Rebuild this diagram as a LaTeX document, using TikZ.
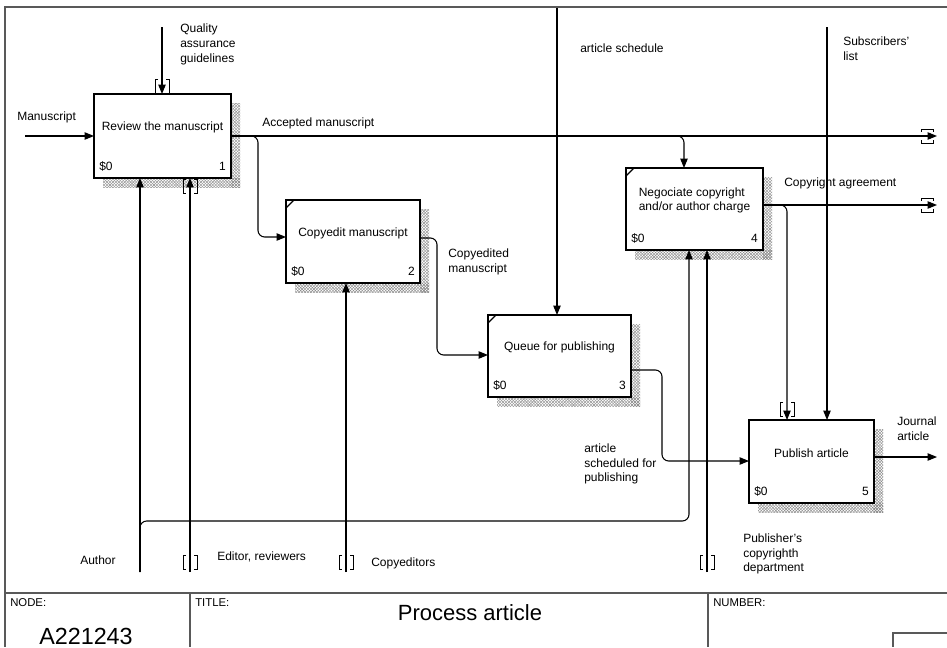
\documentclass[tikz,border=0pt]{standalone}
\usepackage{fontspec}
\setmainfont{Liberation Sans}
\usetikzlibrary{arrows.meta,patterns.meta,calc,backgrounds}
\tikzdeclarepattern{name=shadehatch, type=uncolored,
  bottom left={(-.5pt,-.5pt)}, top right={(2.7pt,2.7pt)}, tile size={(2.2pt,2.2pt)},
  code={\draw[line width=0.3pt] (0,0)--(2.2pt,2.2pt) (0,2.2pt)--(2.2pt,0);}}
\tikzset{
  box/.style={draw, line width=1.7pt, fill=white, rectangle, inner sep=0pt, outer sep=0pt},
  boxt/.style={font=\fontsize{9}{11}\selectfont, inner sep=0pt, align=left},
  lbl/.style={font=\fontsize{9}{11}\selectfont, inner sep=0pt, align=left, anchor=west},
  small/.style={font=\fontsize{8.5}{10}\selectfont, inner sep=0pt, anchor=west},
  arr/.style={line width=0.8pt, -{Triangle[length=7pt,width=5.5pt]}},
  ln/.style={line width=0.8pt},
  tun/.style={line width=0.7pt},
  frame/.style={line width=1.3pt, draw=black!65},
  shadow/.style={pattern=shadehatch, pattern color=black!45},
  vtun/.pic={\draw[tun] (-4,-7) -- (-7,-7) -- (-7,7) -- (-4,7) (4,-7) -- (7,-7) -- (7,7) -- (4,7);},
  htun/.pic={\draw[tun] (-6,-4) -- (-6,-7) -- (6,-7) -- (6,-4) (-6,4) -- (-6,7) -- (6,7) -- (6,4);}
}
\begin{document}
\begin{tikzpicture}[x=0.75pt,y=-0.75pt]
\useasboundingbox (0,0) rectangle (947,647);
% frame and title block
\draw[frame] (947,7) -- (5,7) -- (5,647);
\draw[frame] (5,593) -- (947,593);
\draw[frame] (190,593) -- (190,647);
\draw[frame] (708,593) -- (708,647);
\draw[frame] (947,633) -- (893,633) -- (893,647);
\node[small] (tnode) at (10,603) {NODE:};
\node[small] (ttitle) at (195,603) {TITLE:};
\node[small] (tnum) at (713,603) {NUMBER:};
\node[inner sep=0pt, font=\fontsize{16.5}{18}\selectfont] (title) at (470,613) {Process article};
\node[inner sep=0pt, font=\fontsize{17.5}{19}\selectfont] (nodeid) at (86,636) {A221243};
% boxes
\node[box, minimum width=102.75pt, minimum height=63pt] (b1) at (162.5,136) {};
\node[box, minimum width=100.5pt, minimum height=62.25pt] (b2) at (353,241.5) {};
\node[box, minimum width=107.25pt, minimum height=61.5pt] (b3) at (559.5,356) {};
\node[box, minimum width=102.75pt, minimum height=61.5pt] (b4) at (694.5,209) {};
\node[box, minimum width=93.75pt, minimum height=62.25pt] (b5) at (811.5,461.5) {};
\begin{scope}[on background layer]
\foreach \b in {b1,b2,b3,b4,b5}{
  \fill[shadow] ($(\b.north east)+(0,9)$) rectangle ($(\b.south east)+(9,9)$);
  \fill[shadow] ($(\b.south west)+(9,0)$) rectangle ($(\b.south east)+(9,9)$);
}
\end{scope}
\foreach \b in {b2,b3,b4}{
  \draw[line width=0.9pt] ($(\b.north west)+(0,8)$) -- ($(\b.north west)+(8,0)$);
}
\node[boxt] (t1) at ($(b1.center)+(0,-8.5)$) {Review the manuscript};
\node[boxt] (t2) at ($(b2.center)+(0,-8.5)$) {Copyedit manuscript};
\node[boxt] (t3) at ($(b3.center)+(0,-8.5)$) {Queue for publishing};
\node[boxt] (t4) at ($(b4.center)+(0,-8.5)$) {Negociate copyright\\and/or author charge};
\node[boxt] (t5) at ($(b5.center)+(0,-8.5)$) {Publish article};
\foreach \b/\n in {b1/1,b2/2,b3/3,b4/4,b5/5}{
  \node[lbl, anchor=base west] at ($(\b.south west)+(5,-8)$) {\$0};
  \node[lbl, anchor=base east] at ($(\b.south east)+(-5,-8)$) {\n};
}
% helper coordinates
\coordinate (inM) at (25,136);
\coordinate (cQ) at (162,27);
\coordinate (cS) at (557,8);
\coordinate (cL) at (827,27);
\coordinate (oA) at (937,136);
\coordinate (oC) at (937,205);
\coordinate (oJ) at (937,457);
\coordinate (mAu) at (140,572);
\coordinate (mEd) at (190,572);
\coordinate (mCo) at (346,572);
\coordinate (mPu) at (707,572);
% inputs
\draw[arr] (inM) -- (b1.west);
% controls
\draw[arr] (cQ) -- (cQ |- b1.north);
\pic at (162,86) {vtun};
\draw[arr] (cS) -- (cS |- b3.north);
\draw[arr] (cL) -- (cL |- b5.north);
% outputs of box 1
\draw[arr] (b1.east) -- (oA);
\pic at (927,136) {htun};
\draw[arr, rounded corners=5pt] (b1.east) -- (258,136) -- (258,237) -- (b2.west |- 0,237);
\draw[arr, rounded corners=5pt] (b1.east) -- (684,136) -- (684,150) -- (b4.north -| 684,0);
% box 2 -> box 3
\draw[arr, rounded corners=5pt] (b2.east |- 0,238) -- (437,238) -- (437,355) -- (b3.west |- 0,355);
% box 3 -> box 5
\draw[arr, rounded corners=5pt] (b3.east |- 0,370) -- (662,370) -- (662,461) -- (b5.west |- 0,461);
% box 4 outputs
\draw[arr] (b4.east |- oC) -- (oC);
\pic at (927,205) {htun};
\draw[arr, rounded corners=5pt] (b4.east |- oC) -- (787,205) -- (787,300) -- (b5.north -| 787,0);
\pic at (787,409) {vtun};
% box 5 output
\draw[arr] (b5.east |- oJ) -- (oJ);
% mechanisms
\draw[arr] (mAu) -- (mAu |- b1.south);
\draw[arr, rounded corners=5pt] (mAu) -- (140,521) -- (689,521) -- (b4.south -| 689,0);
\draw[arr] (mEd) -- (mEd |- b1.south);
\pic at (190,186) {vtun};
\pic at (190,562) {vtun};
\draw[arr] (mCo) -- (mCo |- b2.south);
\pic at (346,562) {vtun};
\draw[arr] (mPu) -- (mPu |- b4.south);
\pic at (707,562) {vtun};
% labels
\node[lbl] (lM) at (17,117) {Manuscript};
\node[lbl] (lQ) at (180,44.5) {Quality\\assurance\\guidelines};
\node[lbl] (lA) at (262,123) {Accepted manuscript};
\node[lbl] (lS) at (580,48) {article schedule};
\node[lbl] (lL) at (843,49) {Subscribers'\\list};
\node[lbl] (lC) at (784,183) {Copyright agreement};
\node[lbl] (lCe) at (448,262) {Copyedited\\manuscript};
\node[lbl] (lAs) at (584,464) {article\\scheduled for\\publishing};
\node[lbl] (lJ) at (897,429) {Journal\\article};
\node[lbl] (lAu) at (80,560) {Author};
\node[lbl] (lEd) at (217,557) {Editor, reviewers};
\node[lbl] (lCo) at (371,563) {Copyeditors};
\node[lbl] (lPu) at (743,554) {Publisher's\\copyrighth\\department};
\end{tikzpicture}
\end{document}
